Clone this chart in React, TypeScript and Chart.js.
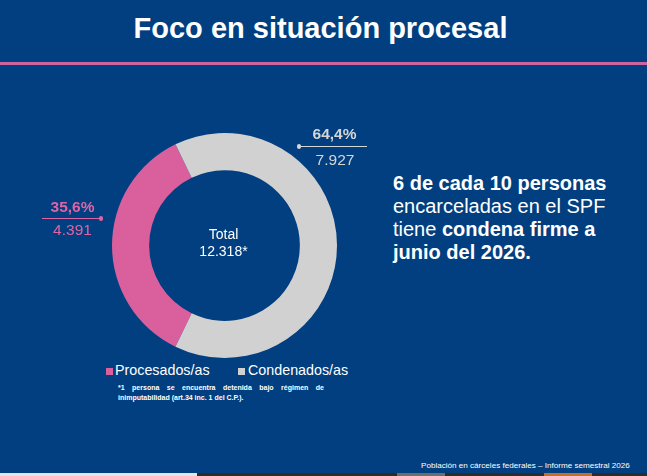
import React, { useEffect, useRef } from "react";
import { Chart, registerables } from "chart.js";

Chart.register(...registerables);

// ---- Data ----
const categories: string[] = ["Procesados/as", "Condenados/as"];
const values: number[] = [4391, 7927];
const sliceColors: string[] = ["#da5f9d", "#d1d1d1"];
const labelColors: string[] = ["#e064a3", "#d6d6d6"];
const titleText = "Foco en situación procesal";
const totalLabel = "Total";
const totalSuffix = "*";
const footnoteLine1 = "*1 persona se encuentra detenida bajo régimen de";
const footnoteLine2 = "inimputabilidad (art.34 inc. 1 del C.P.).";
const footerText = "Población en cárceles federales – Informe semestral 2026";

const BG = "#013f80";
const FONT = "'Liberation Sans', Arial, sans-serif";

function fmtThousands(n: number): string {
  return String(n).replace(/\B(?=(\d{3})+(?!\d))/g, ".");
}
function fmtPct(v: number, total: number): string {
  return (Math.round((v / total) * 1000) / 10).toFixed(1).replace(".", ",") + "%";
}

export default function App() {
  const canvasRef = useRef<HTMLCanvasElement | null>(null);
  const total = values.reduce((a, b) => a + b, 0);
  const firstShare = values[0] / total;
  // center first slice on the left side (270° clockwise from top)
  const rotation = 270 - firstShare * 180;

  useEffect(() => {
    document.body.style.margin = "0";
    const canvas = canvasRef.current;
    if (!canvas) return;
    const chart = new Chart(canvas, {
      type: "doughnut",
      data: {
        labels: categories,
        datasets: [
          {
            data: values,
            backgroundColor: sliceColors,
            borderWidth: 0,
            hoverOffset: 0,
            spacing: 0,
          },
        ],
      },
      options: {
        responsive: false,
        animation: false,
        cutout: "67%",
        rotation: rotation,
        layout: { padding: 0 },
        plugins: {
          legend: { display: false },
          tooltip: { enabled: false },
          title: { display: false },
        },
        events: [],
      },
    });
    return () => chart.destroy();
  }, []);

  const abs = (s: React.CSSProperties): React.CSSProperties => ({ position: "absolute", whiteSpace: "nowrap", ...s });

  return (
    <div
      style={{
        position: "fixed",
        left: 0,
        top: 0,
        width: 647,
        height: 476,
        background: BG,
        overflow: "hidden",
        fontFamily: FONT,
        color: "#ffffff",
      }}
    >
      {/* Title */}
      <div style={abs({ left: 0, top: 14, width: 641, textAlign: "center", fontSize: 29, lineHeight: "29px", fontWeight: 700 })}>
        {titleText}
      </div>
      {/* pink rule */}
      <div style={abs({ left: 0, top: 62, width: 647, height: 3, background: "#cc64a2" })} />

      {/* Donut */}
      <div style={abs({ left: 112, top: 133, width: 225, height: 225 })}>
        <canvas ref={canvasRef} width={225} height={225} style={{ width: 225, height: 225, display: "block" }} />
      </div>

      {/* Center text */}
      <div style={abs({ left: 173.5, top: 226, width: 100, textAlign: "center", fontSize: 14, lineHeight: "16px" })}>
        {totalLabel}
      </div>
      <div style={abs({ left: 173.5, top: 242.5, width: 100, textAlign: "center", fontSize: 14, lineHeight: "16px" })}>
        {fmtThousands(total) + totalSuffix}
      </div>

      {/* Left label (Procesados) */}
      <div style={abs({ left: 42, top: 198, width: 61, textAlign: "center", fontSize: 15.5, lineHeight: "18px", fontWeight: 700, color: labelColors[0] })}>
        {fmtPct(values[0], total)}
      </div>
      <div style={abs({ left: 42, top: 217.5, width: 58, height: 1.5, background: labelColors[0] })} />
      <div style={abs({ left: 98.5, top: 216, width: 4.5, height: 4.5, borderRadius: "50%", background: labelColors[0] })} />
      <div style={abs({ left: 42, top: 220.5, width: 61, textAlign: "center", fontSize: 15.5, lineHeight: "18px", color: labelColors[0] })}>
        {fmtThousands(values[0])}
      </div>

      {/* Right label (Condenados) */}
      <div style={abs({ left: 304, top: 125, width: 61, textAlign: "center", fontSize: 15.5, lineHeight: "18px", fontWeight: 700, color: labelColors[1] })}>
        {fmtPct(values[1], total)}
      </div>
      <div style={abs({ left: 299, top: 145.5, width: 68, height: 1.5, background: labelColors[1] })} />
      <div style={abs({ left: 296.5, top: 144, width: 4.5, height: 4.5, borderRadius: "50%", background: labelColors[1] })} />
      <div style={abs({ left: 304.5, top: 150.5, width: 61, textAlign: "center", fontSize: 15.5, lineHeight: "18px", color: labelColors[1] })}>
        {fmtThousands(values[1])}
      </div>

      {/* Legend */}
      <div style={abs({ left: 106, top: 368, width: 7, height: 7, background: sliceColors[0] })} />
      <div style={abs({ left: 115, top: 362, fontSize: 14.3, lineHeight: "16px" })}>{categories[0]}</div>
      <div style={abs({ left: 238, top: 368, width: 7, height: 7, background: sliceColors[1] })} />
      <div style={abs({ left: 248, top: 362, fontSize: 14.3, lineHeight: "16px" })}>{categories[1]}</div>

      {/* Footnote */}
      <div
        style={{
          position: "absolute",
          left: 118,
          top: 382.5,
          width: 206,
          fontSize: 7,
          lineHeight: "10px",
          fontWeight: 700,
          textAlign: "justify",
          textAlignLast: "justify",
          whiteSpace: "normal",
        }}
      >
        {footnoteLine1}
      </div>
      <div style={abs({ left: 118, top: 392.5, fontSize: 7, lineHeight: "10px", fontWeight: 700 })}>{footnoteLine2}</div>

      {/* Right statement */}
      <div style={abs({ left: 393, top: 172, fontSize: 20, lineHeight: "23px" })}>
        <b>6 de cada 10 personas</b>
        <br />
        encarceladas en el SPF
        <br />
        tiene <b>condena firme a</b>
        <br />
        <b>junio del 2026.</b>
      </div>

      {/* Footer */}
      <div style={abs({ left: 421, top: 460.7, fontSize: 8.1, lineHeight: "10px" })}>{footerText}</div>

      {/* bottom strip */}
      <div style={abs({ left: 0, top: 473, width: 647, height: 3, background: "#2f2b29" })} />
      <div style={abs({ left: 0, top: 473, width: 197, height: 3, background: "#dfe6ea" })} />
      <div style={abs({ left: 397, top: 473, width: 48, height: 3, background: "#6d6d6d" })} />
      <div style={abs({ left: 544, top: 473, width: 48, height: 3, background: "#c0702c" })} />
    </div>
  );
}
